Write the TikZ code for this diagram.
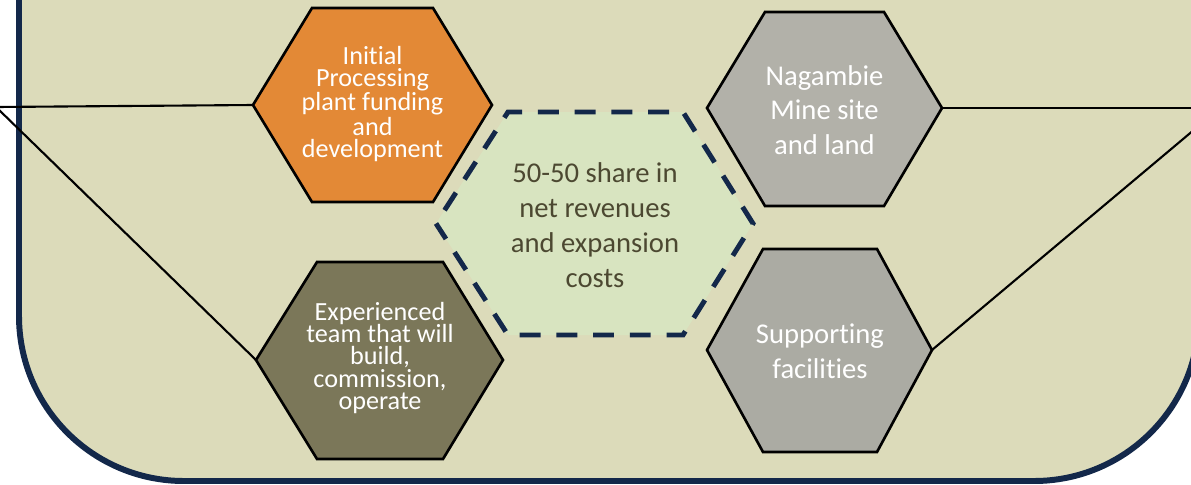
\documentclass[tikz,border=0pt]{standalone}
\usepackage{fontspec}
\setmainfont{Carlito}[Ligatures=NoCommon]
\definecolor{bgbeige}{HTML}{DCDBBA}
\definecolor{navy}{HTML}{13284A}
\definecolor{hexorange}{HTML}{E38936}
\definecolor{hexolive}{HTML}{7B7759}
\definecolor{hexgrayA}{HTML}{B2B1A9}
\definecolor{hexgrayB}{HTML}{ABABA3}
\definecolor{hexgreen}{HTML}{D8E4C0}
\definecolor{centertext}{HTML}{4C4831}
\tikzset{
  frame/.style={draw=navy,line width=3.4pt,fill=bgbeige,rounded corners=3.3cm},
  hexbox/.style={draw=black,line width=1.5pt,line join=miter},
  centerhex/.style={draw=navy,fill=hexgreen,line width=2.8pt,dash pattern=on 11.9pt off 9pt,dash phase=-9pt},
  conn/.style={draw=black,line width=1.2pt},
  bigtxt/.style={align=center,text=white,font=\fontsize{16.3}{19.8}\selectfont,inner sep=0pt},
  smalltxt/.style={align=center,text=white,font=\fontsize{14.9}{12.8}\selectfont,inner sep=0pt},
  midtxt/.style={align=center,text=centertext,font=\fontsize{16.3}{19.8}\selectfont,inner sep=0pt}
}
\begin{document}
\begin{tikzpicture}[x=0.02cm,y=-0.02cm]
\useasboundingbox (0,0) rectangle (1191,484);
\begin{scope}
\clip (0,0) rectangle (1191,484);
\draw[frame] (19,-300) -- (19,481) -- (1199,481) -- (1199,-300);

% hexagon vertices
\coordinate (ipL) at (253,105);
\coordinate (ipR) at (492,105);
\coordinate (etL) at (256,360);
\coordinate (etR) at (503,360);
\coordinate (nmL) at (707,108);
\coordinate (nmR) at (942,108);
\coordinate (sfL) at (707,350);
\coordinate (sfR) at (932,350);
\coordinate (lhub) at (-4,107);
\coordinate (rhub) at (1220,108);

% connectors
\draw[conn] (lhub) -- (ipL);
\draw[conn] (lhub) -- (etL);
\draw[conn] (rhub) -- (nmR);
\draw[conn] (rhub) -- (sfR);

% hexagons
\filldraw[hexbox,fill=hexorange] (ipL) -- (312,8) -- (433,8) -- (ipR) -- (433,202) -- (312,202) -- cycle;
\filldraw[hexbox,fill=hexolive] (etL) -- (317,262) -- (443,262) -- (etR) -- (443,459) -- (317,459) -- cycle;
\filldraw[hexbox,fill=hexgrayA] (nmL) -- (765,12) -- (884,12) -- (nmR) -- (884,206) -- (765,206) -- cycle;
\filldraw[hexbox,fill=hexgrayB] (sfL) -- (763,249) -- (877,249) -- (sfR) -- (877,452) -- (763,452) -- cycle;
\path[centerhex] (436,223.5) -- (508,112) -- (683,112) -- (753,223.5) -- (683,335) -- (508,335) -- cycle;

% texts
\node[smalltxt] (ip) at (372.5,104) {Initial\\Processing\\plant funding\\and\\development};
\node[smalltxt] (et) at (380,358) {Experienced\\team that will\\build,\\commission,\\operate};
\node[bigtxt] (nm) at (824.5,110) {Nagambie\\Mine site\\and land};
\node[bigtxt] (sf) at (820,351) {Supporting\\facilities};
\node[midtxt] (ct) at (595,225) {50-50 share in\\net revenues\\and expansion\\costs};
\end{scope}
\end{tikzpicture}
\end{document}
